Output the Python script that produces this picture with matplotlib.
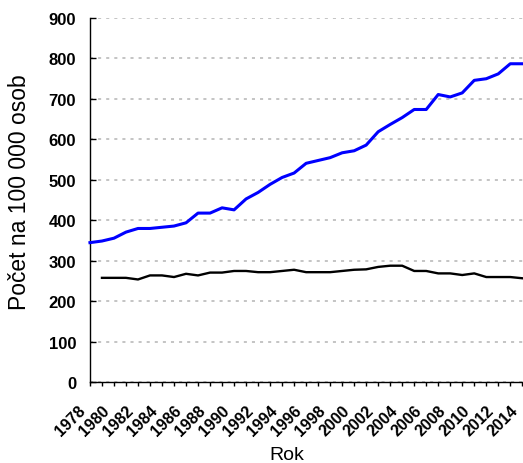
import numpy as np
import matplotlib.pyplot as plt
import matplotlib.transforms as mtransforms

plt.rcParams['font.family'] = ['Liberation Sans', 'DejaVu Sans']

# === Data ===
years_blue = list(range(1978, 2015))
blue = [345, 349, 356, 371, 380, 380, 383, 386, 394, 418,
        418, 431, 426, 453, 469, 489, 506, 517, 541, 548,
        555, 567, 572, 586, 619, 637, 654, 674, 674, 711,
        705, 715, 746, 750, 762, 787, 787]

years_black = list(range(1979, 2015))
black = [258, 258, 258, 254, 264, 264, 260, 268, 264, 271,
         271, 275, 275, 272, 272, 275, 278, 272, 272, 272,
         275, 278, 279, 285, 288, 288, 275, 275, 269, 269,
         265, 269, 260, 260, 260, 257]

tick_years = list(range(1978, 2015))
label_years = [str(y) if y % 2 == 0 else '' for y in tick_years]

# === Plot ===
fig = plt.figure(figsize=(5.23, 4.64), dpi=100)
ax = fig.add_axes([0.172, 0.174, 0.828, 0.785])

ax.plot(years_blue, blue, color='#0000ff', lw=2.2, zorder=3, clip_on=False)
ax.plot(years_black, black, color='black', lw=1.7, zorder=3)

ax.set_ylim(0, 900)
ax.set_yticks(range(0, 901, 100))
ax.set_xlim(1978, 2014.06)
ax.set_xticks(tick_years)
ax.set_xticklabels(label_years, rotation=45, ha='right', va='top',
                   rotation_mode='anchor')

ax.yaxis.grid(True, color='#b4b4b4', linestyle=(0, (2, 3.3)), lw=1.1)
ax.set_axisbelow(True)

for s in ['top', 'right']:
    ax.spines[s].set_visible(False)
for s in ['left', 'bottom']:
    ax.spines[s].set_linewidth(1.0)

ax.tick_params(axis='y', direction='in', length=4, width=1, labelsize=12, pad=10)
ax.tick_params(axis='x', direction='out', length=3, width=1, labelsize=11.5, pad=0)

# shift the slanted year labels like in the original
offset = mtransforms.ScaledTranslation(-0.12, -0.16, fig.dpi_scale_trans)
for lbl in ax.get_xticklabels():
    lbl.set_transform(lbl.get_transform() + offset)
for lbl in ax.get_xticklabels() + ax.get_yticklabels():
    lbl.set_fontweight('bold')

ax.set_xlabel('Rok', fontsize=14)
ax.xaxis.set_label_coords(0.454, -0.174)
ax.set_ylabel('Počet na 100 000 osob', fontsize=16.5)
ax.yaxis.set_label_coords(-0.136, 0.525)

fig.savefig('out.png', dpi=100)
